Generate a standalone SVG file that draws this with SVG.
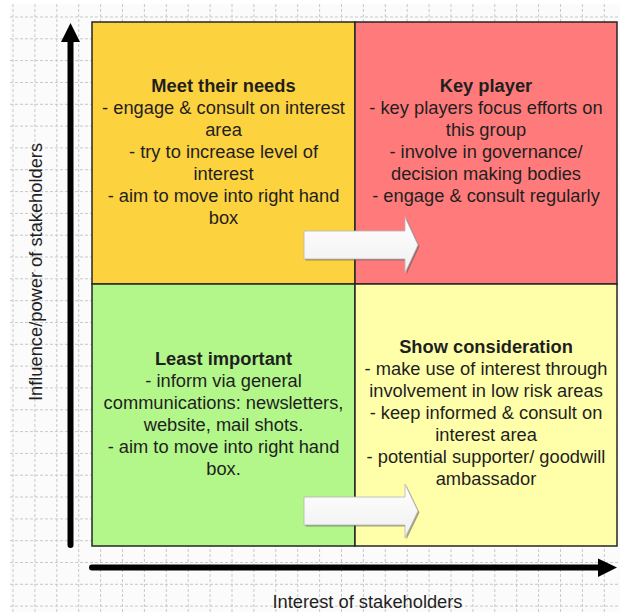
<svg xmlns="http://www.w3.org/2000/svg" width="620" height="612" viewBox="0 0 620 612">
<defs>
<style>
.grid{stroke:#c9c9c9;stroke-width:1;stroke-dasharray:3 2;fill:none}
.quad{stroke:#262626;stroke-width:1.5}
.t{font-family:"Liberation Sans",Arial,sans-serif;font-size:18.3px;fill:#1f1f1f;text-anchor:middle}
.b{font-weight:bold}
.axis{stroke:#000;stroke-width:6;stroke-linecap:round;fill:none}
.head{fill:#000}
.barrow{fill:url(#wg);stroke:#b5b5b5;stroke-width:0.8}
.shadow{fill:#555;opacity:0.55}
</style>
<linearGradient id="wg" x1="0" y1="0" x2="0" y2="1">
<stop offset="0" stop-color="#ffffff"/>
<stop offset="1" stop-color="#f0f0f0"/>
</linearGradient>
</defs>
<rect x="0" y="0" width="620" height="612" fill="#ffffff"/>
<rect x="10" y="4" width="610" height="608" fill="#fbfbfb"/>
<path class="grid" d="M13 4V612M34.9 4V612M56.8 4V612M78.7 4V612M100.6 4V612M122.5 4V612M144.4 4V612M166.3 4V612M188.2 4V612M210.1 4V612M232 4V612M253.9 4V612M275.8 4V612M297.7 4V612M319.6 4V612M341.5 4V612M363.4 4V612M385.3 4V612M407.2 4V612M429.1 4V612M451 4V612M472.9 4V612M494.8 4V612M516.7 4V612M538.6 4V612M560.5 4V612M582.4 4V612M604.3 4V612M10 17H620M10 38.8H620M10 60.6H620M10 82.5H620M10 104.3H620M10 126.1H620M10 147.9H620M10 169.7H620M10 191.6H620M10 213.4H620M10 235.2H620M10 257H620M10 278.8H620M10 300.7H620M10 322.5H620M10 344.3H620M10 366.1H620M10 387.9H620M10 409.8H620M10 431.6H620M10 453.4H620M10 475.2H620M10 497H620M10 518.9H620M10 540.7H620M10 562.5H620M10 584.3H620M10 606.1H620"/>

<g id="meet-their-needs">
<rect class="quad" x="92" y="22" width="263" height="262" fill="#fdd23f"/>
<text class="t" x="223.5" y="92"><tspan class="b" x="223.5" y="92">Meet their needs</tspan><tspan x="223.5" y="114">- engage &amp; consult on interest</tspan><tspan x="223.5" y="136">area</tspan><tspan x="223.5" y="158">- try to increase level of</tspan><tspan x="223.5" y="180">interest</tspan><tspan x="223.5" y="202">- aim to move into right hand</tspan><tspan x="223.5" y="224">box</tspan></text>
</g>
<g id="key-player">
<rect class="quad" x="355" y="22" width="262" height="262" fill="#ff7b7b"/>
<text class="t" x="486" y="92"><tspan class="b" x="486" y="92">Key player</tspan><tspan x="486" y="114">- key players focus efforts on</tspan><tspan x="486" y="136">this group</tspan><tspan x="486" y="158">- involve in governance/</tspan><tspan x="486" y="180">decision making bodies</tspan><tspan x="486" y="202">- engage &amp; consult regularly</tspan></text>
</g>
<g id="least-important">
<rect class="quad" x="92" y="284" width="263" height="262" fill="#b3f78b"/>
<text class="t" x="223.5" y="365"><tspan class="b" x="223.5" y="365">Least important</tspan><tspan x="223.5" y="387">- inform via general</tspan><tspan x="223.5" y="409">communications: newsletters,</tspan><tspan x="223.5" y="431">website, mail shots.</tspan><tspan x="223.5" y="453">- aim to move into right hand</tspan><tspan x="223.5" y="475">box.</tspan></text>
</g>
<g id="show-consideration">
<rect class="quad" x="355" y="284" width="262" height="262" fill="#ffffaa"/>
<text class="t" x="486" y="353"><tspan class="b" x="486" y="353">Show consideration</tspan><tspan x="486" y="375">- make use of interest through</tspan><tspan x="486" y="397">involvement in low risk areas</tspan><tspan x="486" y="419">- keep informed &amp; consult on</tspan><tspan x="486" y="441">interest area</tspan><tspan x="486" y="463">- potential supporter/ goodwill</tspan><tspan x="486" y="485">ambassador</tspan></text>
</g>

<g id="move-arrow-top">
<polygon class="shadow" points="305.5,232.5 406.5,232.5 406.5,218.5 419.5,246.5 406.5,274.5 406.5,260.5 305.5,260.5"/>
<polygon class="barrow" points="304,231 405,231 405,217 418,245 405,273 405,259 304,259"/>
</g>
<g id="move-arrow-bottom">
<polygon class="shadow" points="305.5,498.5 406.5,498.5 406.5,485.5 419.5,512.5 406.5,539.5 406.5,526.5 305.5,526.5"/>
<polygon class="barrow" points="304,497 405,497 405,484 418,511 405,538 405,525 304,525"/>
</g>

<g id="connectors">
<path class="axis" d="M70.5 545V40"/>
<polygon class="head" points="70.5,23 80,42 61,42"/>
<path class="axis" d="M92 567.5H600"/>
<polygon class="head" points="617,567.5 598,558.5 598,577"/>
</g>

<g id="axis-labels">
<text class="t" transform="translate(42,272) rotate(-90)" x="0" y="0">Influence/power of stakeholders</text>
<text class="t" x="367.5" y="608">Interest of stakeholders</text>
</g>
</svg>
